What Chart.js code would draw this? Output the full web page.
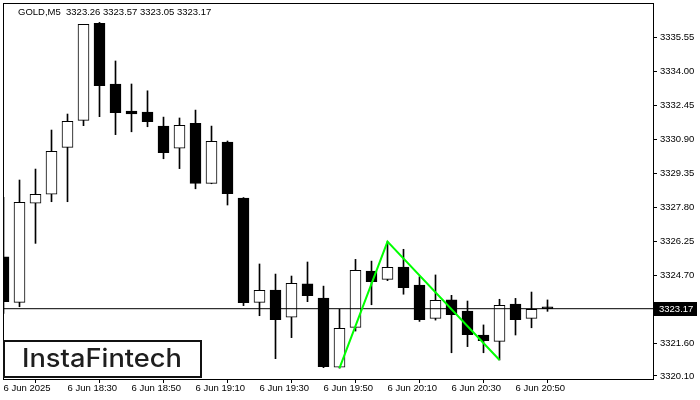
<!DOCTYPE html>
<html><head><meta charset="utf-8">
<script src="https://cdn.jsdelivr.net/npm/chart.js@4"></script>
<style>html,body{margin:0;padding:0;background:#fff}canvas{display:block}</style>
</head><body>
<canvas id="c" width="700" height="400"></canvas>
<script>
const symbol = "GOLD,M5";
const opens  = [3325.54,3323.46,3327.98,3328.39,3330.53,3331.76,3336.19,3333.42,3332.19,3332.14,3331.50,3330.49,3331.63,3328.89,3330.77,3328.22,3323.46,3324.02,3322.78,3324.30,3323.66,3320.50,3322.32,3324.89,3324.51,3325.07,3324.25,3322.73,3323.57,3323.06,3321.97,3321.68,3323.38,3322.73,3323.26];
const highs  = [3328.25,3329.04,3329.54,3331.32,3332.05,3336.14,3336.23,3334.47,3333.42,3333.11,3331.91,3331.87,3332.23,3331.50,3330.82,3328.24,3325.21,3324.75,3324.66,3325.30,3324.20,3323.14,3325.42,3325.34,3326.23,3325.88,3324.63,3324.71,3323.78,3323.52,3322.43,3323.60,3323.64,3323.93,3323.57];
const lows   = [3322.96,3323.26,3326.15,3328.05,3328.05,3331.52,3331.93,3331.11,3331.24,3331.47,3330.01,3329.56,3328.64,3328.87,3327.90,3323.31,3322.85,3320.89,3321.85,3323.49,3320.48,3320.46,3322.15,3323.35,3324.45,3323.83,3322.59,3322.65,3321.16,3321.44,3321.16,3320.83,3321.97,3322.30,3323.05];
const closes = [3323.49,3328.02,3328.39,3330.35,3331.72,3336.14,3333.34,3332.11,3332.06,3331.70,3330.29,3331.54,3328.89,3330.81,3328.42,3323.44,3324.01,3322.67,3324.33,3323.76,3320.52,3322.27,3324.92,3324.40,3325.06,3324.13,3322.67,3323.55,3322.90,3321.98,3321.71,3323.32,3322.67,3323.14,3323.17];
const xTickIdx    = [0,4,8,12,16,20,24,28,32];
const xTickLabels = ["6 Jun 2025","6 Jun 18:30","6 Jun 18:50","6 Jun 19:10","6 Jun 19:30","6 Jun 19:50","6 Jun 20:10","6 Jun 20:30","6 Jun 20:50"];
const yTicks = [3320.10,3321.60,3324.70,3326.25,3327.80,3329.35,3330.90,3332.45,3334.00,3335.55];
const patternIdx = [21,24,31];
const patternVal = [3320.46,3326.23,3320.83];

const xMin = -1/32, xMax = xMin + 651/16;
const yMin = 3319.963, yMax = 3337.115;
const last = closes.length-1;
const lastClose = closes[last];
const header = symbol + "  " + [opens[last],highs[last],lows[last],closes[last]].map(v=>v.toFixed(2)).join(" ");
const FONT = '"Liberation Sans", Arial, sans-serif';

const overlay = {
  id:'overlay',
  afterDraw(chart){
    const {ctx, chartArea:a, scales:{y}} = chart;
    ctx.save();
    ctx.strokeStyle='#000'; ctx.lineWidth=1;
    ctx.strokeRect(a.left+0.5, a.top+0.5, a.right-a.left-1, a.bottom-a.top);
    ctx.fillStyle='#000'; ctx.font='9.5px '+FONT; ctx.textAlign='left'; ctx.textBaseline='alphabetic';
    ctx.fillText(header, 18, 14.5);
    const py = Math.round(y.getPixelForValue(lastClose));
    ctx.fillRect(a.right, py-7, 43, 14);
    ctx.fillStyle='#fff'; ctx.textBaseline='middle';
    ctx.fillText(lastClose.toFixed(2), a.right+5, py+0.5);
    // logo
    ctx.fillStyle='#fff'; ctx.fillRect(3,340,199,38);
    ctx.strokeStyle='#111'; ctx.lineWidth=2; ctx.strokeRect(4,341,197,36);
    ctx.fillStyle='#1e1e1e'; ctx.font='500 25px Inter, "Noto Sans", sans-serif'; ctx.textAlign='left'; ctx.textBaseline='alphabetic';
    const w = ctx.measureText('InstaFintech').width;
    ctx.translate(22, 367); ctx.scale(160/w, 1);
    ctx.fillText('InstaFintech', 0, 0);
    ctx.restore();
  }
};

new Chart(document.getElementById('c'), {
  type:'bar',
  data:{ datasets:[
    { type:'line', data:patternIdx.map((x,i)=>({x, y:patternVal[i]})), borderColor:'#00ff00', borderWidth:2, pointRadius:0, order:-1, clip:0 },
    { type:'line', data:[{x:xMin,y:lastClose},{x:xMax,y:lastClose}], borderColor:'#000', borderWidth:1, pointRadius:0, order:0, clip:0 },
    { type:'bar', data:opens.map((o,i)=>({x:i, y:[o, closes[i]]})),
      backgroundColor:opens.map((o,i)=> closes[i]>o ? '#fff' : '#000'),
      borderColor:'#000', borderWidth:1, borderSkipped:false, barThickness:11, grouped:false, order:1, clip:0 },
    { type:'bar', data:lows.map((l,i)=>({x:i, y:[l, highs[i]]})),
      backgroundColor:'#000', borderWidth:0, barThickness:1, grouped:false, order:2, clip:0 }
  ]},
  options:{
    responsive:false, animation:false, devicePixelRatio:1,
    layout:{ padding:{ top:3, left:3, right:0, bottom:0 } },
    plugins:{ legend:{display:false}, tooltip:{enabled:false} },
    scales:{
      x:{ type:'linear', min:xMin, max:xMax, offset:false,
        afterBuildTicks:(s)=>{ s.ticks = xTickIdx.map(v=>({value:v})); },
        afterFit:(s)=>{ s.height = 21; s.paddingLeft = 0; s.paddingRight = 0; },
        ticks:{ autoSkip:false, maxRotation:0, minRotation:0, align:'start', padding:0, color:'#000',
          font:{ family:FONT, size:9.5 },
          callback:(v)=>{ const k = xTickIdx.indexOf(v); return k>=0 ? xTickLabels[k] : ''; } },
        grid:{ drawOnChartArea:false, drawTicks:true, tickLength:4, color:'#000' },
        border:{ display:false }
      },
      y:{ type:'linear', position:'right', min:yMin, max:yMax,
        afterBuildTicks:(s)=>{ s.ticks = yTicks.map(v=>({value:v})); },
        afterFit:(s)=>{ s.width = 46; s.paddingTop = 0; s.paddingBottom = 0; },
        ticks:{ padding:3, color:'#000', font:{ family:FONT, size:9.5 }, callback:(v)=>Number(v).toFixed(2) },
        grid:{ drawOnChartArea:false, drawTicks:true, tickLength:3, color:'#000' },
        border:{ display:false }
      }
    }
  },
  plugins:[overlay]
});
</script>
</body></html>
